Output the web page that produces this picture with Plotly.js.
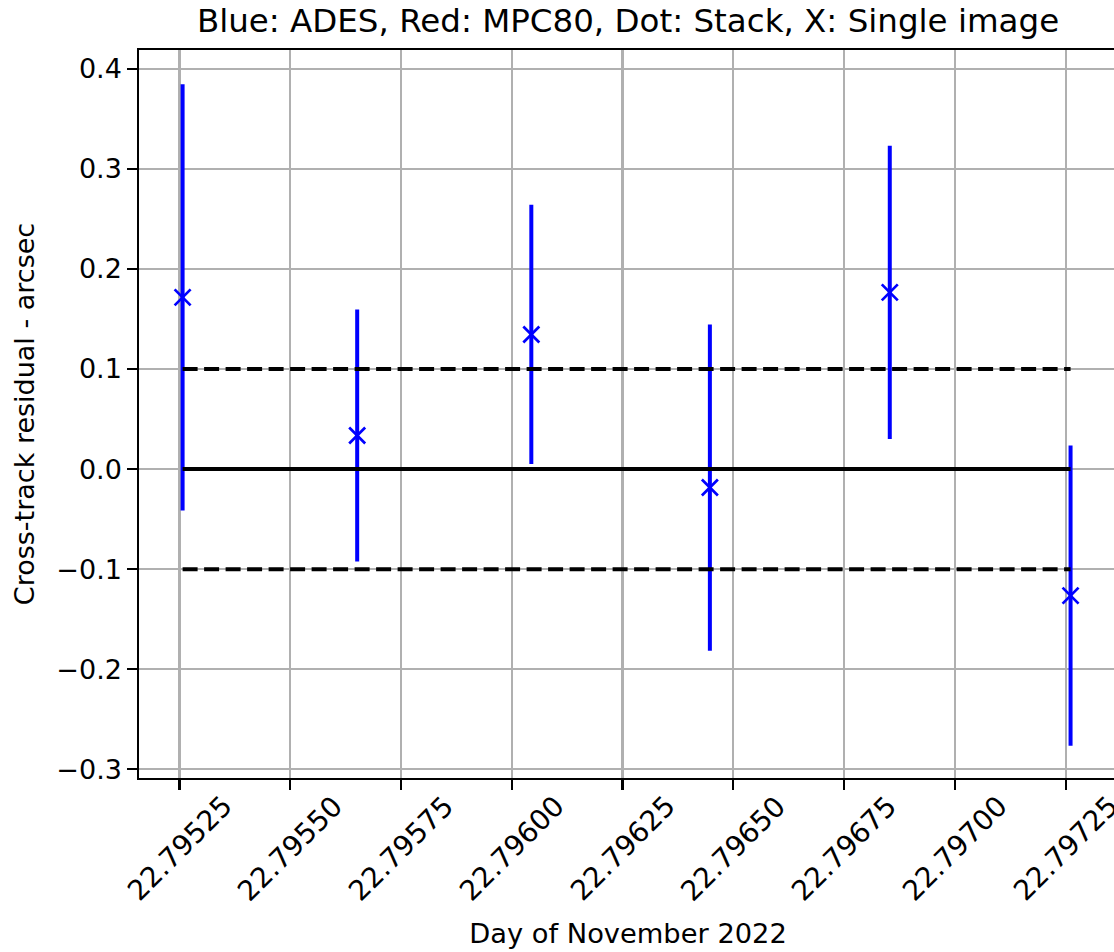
<!DOCTYPE html>
<html>
<head>
<meta charset="utf-8">
<script src="https://cdn.plot.ly/plotly-3.0.1.min.js"></script>
<style>
html,body{margin:0;padding:0;overflow:hidden;background:#fff;}
#chart{width:1117px;height:952px;}
</style>
</head>
<body>
<div id="chart"></div>
<script>
// Observation times (day of November 2022)
const obsTime = [22.795257, 22.795651, 22.796044, 22.796447, 22.796853, 22.797261];
// Cross-track residuals (arcsec), ADES single image
const residual = [0.1715, 0.0335, 0.1345, -0.0185, 0.1765, -0.1265];
// Uncertainties (arcsec)
const uncertainty = [0.213, 0.126, 0.1295, 0.163, 0.1465, 0.150];
// Reference levels
const zeroLevel = 0.0;
const bandLevel = 0.1;
const xTickVals = [22.79525, 22.7955, 22.79575, 22.796, 22.79625, 22.7965, 22.79675, 22.797, 22.79725];
const yTickVals = [-0.3, -0.2, -0.1, 0.0, 0.1, 0.2, 0.3, 0.4];

const xMin = Math.min(...obsTime), xMax = Math.max(...obsTime);
const FONT = "DejaVu Sans, sans-serif";

const traces = [
  {
    x: obsTime, y: residual, type: 'scatter', mode: 'markers',
    marker: {symbol: 'x-thin', size: 16, color: '#0000ff', line: {color: '#0000ff', width: 2.7}},
    error_y: {type: 'data', array: uncertainty, visible: true, color: '#0000ff', thickness: 4, width: 0},
    hoverinfo: 'x+y', showlegend: false
  },
  {
    x: [xMin, xMax], y: [zeroLevel, zeroLevel], type: 'scatter', mode: 'lines',
    line: {color: '#000', width: 4}, showlegend: false, hoverinfo: 'skip'
  },
  {
    x: [xMin, xMax], y: [bandLevel, bandLevel], type: 'scatter', mode: 'lines',
    line: {color: '#000', width: 4, dash: '15px,6.5px'}, showlegend: false, hoverinfo: 'skip'
  },
  {
    x: [xMin, xMax], y: [-bandLevel, -bandLevel], type: 'scatter', mode: 'lines',
    line: {color: '#000', width: 4, dash: '15px,6.5px'}, showlegend: false, hoverinfo: 'skip'
  }
];

// Rotated x tick labels, centred on their ticks (as matplotlib rotation=45, ha=center)
const tickAnnotations = xTickVals.map(v => ({
  x: v, xref: 'x', y: -0.0115, yref: 'paper',
  text: v.toFixed(5), textangle: -45, showarrow: false,
  xanchor: 'center', yanchor: 'top',
  font: {family: FONT, size: 28, color: '#000'}
}));

const layout = {
  width: 1117, height: 952,
  margin: {l: 139, r: 0, t: 50, b: 174, pad: 0},
  paper_bgcolor: '#fff', plot_bgcolor: '#fff',
  font: {family: FONT, size: 27, color: '#000'},
  title: {
    text: 'Blue: ADES, Red: MPC80, Dot: Stack, X: Single image',
    font: {family: FONT, size: 32.5, color: '#000'},
    x: 0.5, xref: 'paper', xanchor: 'center',
    y: 1 - 21/952, yref: 'container', yanchor: 'middle'
  },
  xaxis: {
    range: [22.7951586, 22.7973658],
    tickmode: 'array', tickvals: xTickVals,
    showticklabels: false,
    ticks: 'outside', ticklen: 9.5, tickwidth: 2.2, tickcolor: '#000',
    showgrid: true, gridcolor: '#b0b0b0', gridwidth: 2.2,
    zeroline: false,
    showline: true, linecolor: '#000', linewidth: 2.2, mirror: true,
    title: {text: 'Day of November 2022', font: {family: FONT, size: 27.3, color: '#000'}, standoff: 135}
  },
  yaxis: {
    range: [-0.3087, 0.4187],
    tickmode: 'array', tickvals: yTickVals,
    ticktext: yTickVals.map(v => (v < 0 ? '\u2212' : '') + Math.abs(v).toFixed(1)),
    ticks: 'outside', ticklen: 9.5, tickwidth: 2.2, tickcolor: '#000',
    tickfont: {family: FONT, size: 27, color: '#000'},
    showgrid: true, gridcolor: '#b0b0b0', gridwidth: 2.2,
    zeroline: false,
    showline: true, linecolor: '#000', linewidth: 2.2, mirror: true,
    title: {text: 'Cross-track residual - arcsec', font: {family: FONT, size: 27, color: '#000'}, standoff: 14}
  },
  annotations: tickAnnotations
};

Plotly.newPlot('chart', traces, layout, {displayModeBar: false, staticPlot: true});
</script>
</body>
</html>
